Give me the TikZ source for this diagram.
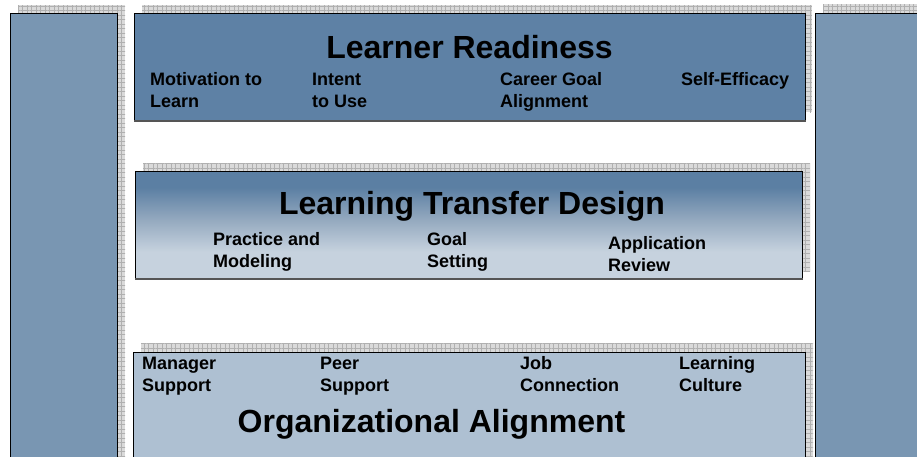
\documentclass[tikz,border=0pt]{standalone}
\usepackage{fontspec}
\setmainfont{Liberation Sans}
\usetikzlibrary{patterns.meta}
\definecolor{pillarblue}{HTML}{7996B2}
\definecolor{topblue}{HTML}{5E81A5}
\definecolor{lowblue}{HTML}{AEC0D2}
\definecolor{gdark}{HTML}{5B7FA3}
\definecolor{gmid}{HTML}{94A9BF}
\definecolor{glight}{HTML}{C6D2DE}
\definecolor{hatchbg}{HTML}{DADADA}
\definecolor{hatchline}{HTML}{B0B0B0}
\definecolor{edgegray}{HTML}{555555}
\pgfdeclareverticalshading{transfershade}{100bp}{color(0bp)=(glight); color(37.5bp)=(glight); color(52.5bp)=(gmid); color(67.5bp)=(gdark); color(100bp)=(gdark)}
\tikzset{
  panel/.style={draw=black, line width=0.8pt, rectangle, inner sep=0pt, anchor=north west},
  shadowfill/.style={fill=hatchbg, postaction={pattern={Hatch[angle=0,distance=4.5pt,line width=0.4pt]}, pattern color=hatchline}},
  bottomedge/.style={draw=edgegray, line width=1.4pt},
  title/.style={font=\bfseries\fontsize{32}{36}\selectfont, anchor=base, inner sep=0pt},
  label/.style={font=\bfseries\fontsize{18}{22}\selectfont, align=left, anchor=base west, inner sep=0pt},
}
\begin{document}
\begin{tikzpicture}[x=1pt,y=-1pt]
\clip (0,0) rectangle (917,456);
\fill[white] (0,0) rectangle (917,456);
% shadows
\fill[shadowfill] (18,5) rectangle (125,470);
\fill[shadowfill] (823,4) rectangle (930,470);
\fill[shadowfill] (142,5) rectangle (812,112);
\fill[shadowfill] (143,163) rectangle (810,271);
\fill[shadowfill] (141,343) rectangle (813,470);
% pillars
\node[panel, fill=pillarblue, minimum width=107pt, minimum height=457pt] (lp) at (10,13) {};
\node[panel, fill=pillarblue, minimum width=115pt, minimum height=457pt] (rp) at (815,13) {};
% top box
\node[panel, fill=topblue, minimum width=671pt, minimum height=107pt] (lr) at (134,13) {};
\draw[bottomedge] (lr.south west) -- (lr.south east);
% middle box
\node[panel, shading=transfershade, minimum width=667pt, minimum height=107pt] (ltd) at (135,171) {};
\draw[bottomedge] (ltd.south west) -- (ltd.south east);
% bottom box
\node[panel, fill=lowblue, minimum width=672pt, minimum height=118pt] (oa) at (133,352) {};
% texts (two-line labels anchored at the baseline of their last line)
\node[title] (t1) at (469.5,58) {Learner Readiness};
\node[label] (l1) at (150,107) {Motivation to\\Learn};
\node[label] (l2) at (312,107) {Intent\\to Use};
\node[label] (l3) at (500,107) {Career Goal\\Alignment};
\node[label] (l4) at (681,85) {Self-Efficacy};
\node[title] (t2) at (472,214) {Learning Transfer Design};
\node[label] (m1) at (213,267) {Practice and\\Modeling};
\node[label] (m2) at (427,267) {Goal\\Setting};
\node[label] (m3) at (608,271) {Application\\Review};
\node[label] (b1) at (142,391) {Manager\\Support};
\node[label] (b2) at (320,391) {Peer\\Support};
\node[label] (b3) at (520,391) {Job\\Connection};
\node[label] (b4) at (679,391) {Learning\\Culture};
\node[title] (t3) at (431.5,432) {Organizational Alignment};
\end{tikzpicture}
\end{document}
